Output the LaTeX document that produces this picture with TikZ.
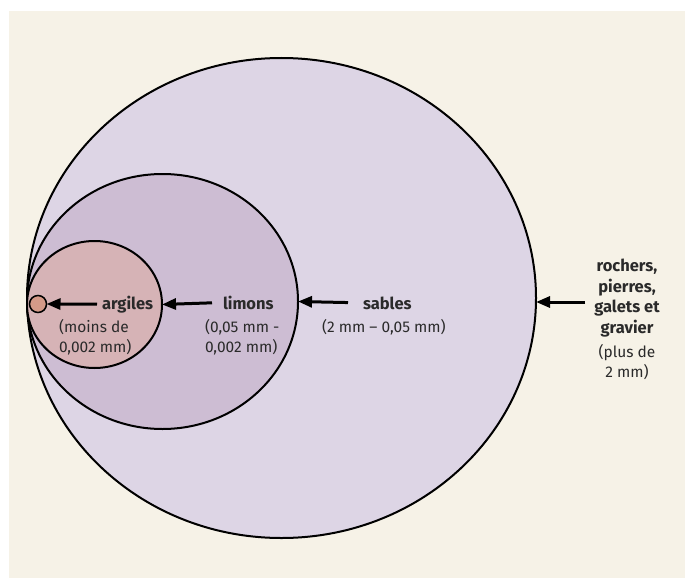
\documentclass[tikz,border=0pt]{standalone}
\usepackage{fontspec}
\setmainfont{Fira Sans}
\usetikzlibrary{shapes.geometric,arrows.meta}
\definecolor{bgbeige}{HTML}{F6F2E7}
\definecolor{bigfill}{HTML}{DDD5E5}
\definecolor{midfill}{HTML}{CDBDD3}
\definecolor{smallfill}{HTML}{D6B3B6}
\definecolor{tinyfill}{HTML}{D49A88}
\definecolor{txt}{HTML}{2A2A2A}
\tikzset{
  zone/.style={ellipse, draw=black, line width=2pt, inner sep=0pt, outer sep=0pt},
  lbl/.style={inner sep=0pt, outer sep=0pt, text=txt, font=\fontsize{16.5}{20.5}\selectfont\bfseries},
  sub/.style={inner sep=0pt, outer sep=0pt, text=txt, font=\fontsize{15.5}{20}\selectfont, align=left},
  arr/.style={line width=3pt, -{Triangle[length=14pt,width=11pt]}}
}
\begin{document}
\begin{tikzpicture}[x=1pt,y=-1pt]
\useasboundingbox (0,0) rectangle (685,578);
\fill[white] (0,0) rectangle (685,578);
\fill[bgbeige] (9,11) rectangle (685,578);
% zones
\node[zone, fill=bigfill, minimum width=509pt, minimum height=480pt] (big) at (281.5,298) {};
\node[zone, fill=midfill, minimum width=271pt, minimum height=255pt] (mid) at (162.5,301.5) {};
\node[zone, fill=smallfill, minimum width=135pt, minimum height=127pt] (small) at (94.5,304.5) {};
\node[circle, draw=black, line width=1.5pt, fill=tinyfill, minimum size=17pt, inner sep=0pt, outer sep=0pt] (tiny) at (38,304) {};
% labels (base anchor = baseline of last line)
\node[lbl, anchor=base west] (argiles) at (102,309) {argiles};
\node[sub, anchor=base west] (argsub) at (59,352) {(moins de\\0,002 mm)};
\node[lbl, anchor=base west] (limons) at (223,309) {limons};
\node[sub, anchor=base west] (limsub) at (205,352) {(0,05 mm -\\0,002 mm)};
\node[lbl, anchor=base west] (sables) at (363,309) {sables};
\node[sub, anchor=base west] (sabsub) at (322,332) {(2 mm – 0,05 mm)};
\node[lbl, anchor=base, align=center] (roch) at (627,333) {rochers,\\pierres,\\galets et\\gravier};
\node[sub, anchor=base, align=center] (rochsub) at (627,377) {(plus de\\2 mm)};
\coordinate (rochstart) at (585,302);
% arrows
\draw[arr, shorten <=5pt] (argiles.west) -- (tiny.east);
\draw[arr, shorten <=11pt] (limons.west) -- (small.east);
\draw[arr, shorten <=15pt] (sables.west) -- (mid.east);
\draw[arr] (rochstart) -- (big.east |- rochstart);
\end{tikzpicture}
\end{document}
